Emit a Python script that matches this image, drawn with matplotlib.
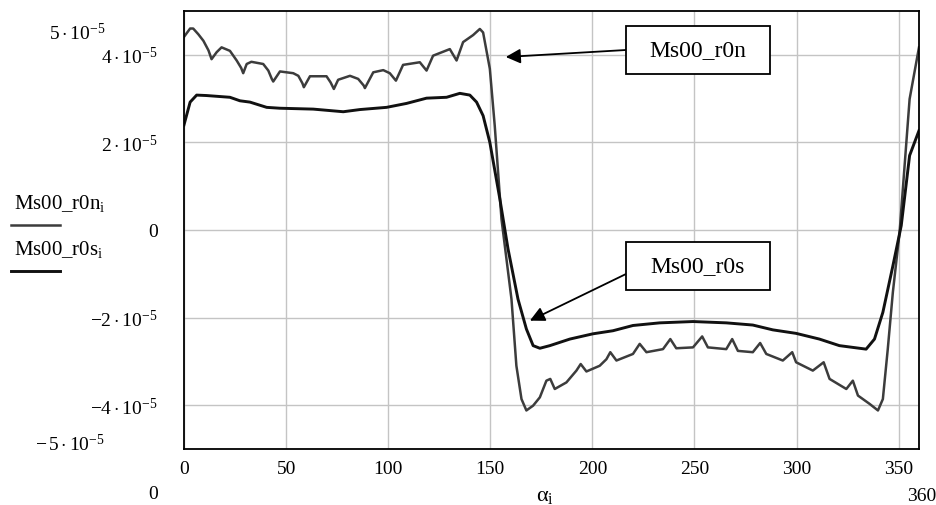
import matplotlib
matplotlib.use("Agg")
import matplotlib.pyplot as plt
from matplotlib.patches import Rectangle
from matplotlib.lines import Line2D

plt.rcParams["font.family"] = ["Liberation Serif", "DejaVu Serif"]
plt.rcParams["mathtext.fontset"] = "custom"
plt.rcParams["mathtext.rm"] = "Liberation Serif"
plt.rcParams["mathtext.it"] = "Liberation Serif:italic"

SCALE = 1e-5

# Ms00_r0n (grey, rippled) in units of 1e-5
alpha_n = [0, 3, 4.5, 7, 9.5, 12, 13.5, 16, 18.4, 22.5, 25.8, 28, 29, 30.7, 33, 38.8,
           41.3, 43, 43.7, 47, 53.5, 56, 58, 58.7, 61.7, 69.8, 71.8, 73.4, 75.5, 81.3,
           85.3, 88, 88.6, 92.7, 97.6, 100.8, 103.8, 107.3, 115.5, 118.8, 122, 130.2,
           133.5, 136.7, 141.6, 144.9, 146.5, 149.8, 152.2, 155.5, 160.4, 162.8,
           165.3, 167.7, 171, 174.3, 177.5, 179.4, 181.6, 187.3, 192.2, 194.3, 197.1,
           203.6, 206.9, 208.8, 211.8, 219.9, 223.2, 226.5, 234.6, 238.2, 241.1,
           249.3, 253.8, 256.6, 265.6, 268.5, 271.3, 278.6, 282.2, 285.2, 293.3,
           297.9, 299.8, 308, 313.3, 316.2, 324.4, 327.6, 330.1, 335.8, 339.9, 342.3,
           344.7, 347.2, 350.5, 355.4, 360]
ms00_r0n = [4.41, 4.6, 4.6, 4.47, 4.32, 4.1, 3.9, 4.06, 4.17, 4.09, 3.87, 3.7, 3.58,
            3.79, 3.84, 3.79, 3.64, 3.45, 3.39, 3.62, 3.58, 3.52, 3.35, 3.26, 3.51,
            3.51, 3.37, 3.22, 3.43, 3.52, 3.45, 3.3, 3.24, 3.6, 3.65, 3.58, 3.41, 3.77,
            3.83, 3.64, 3.98, 4.13, 3.87, 4.29, 4.45, 4.59, 4.51, 3.68, 2.38, 0.25,
            -1.58, -3.1, -3.86, -4.12, -4.01, -3.82, -3.44, -3.4, -3.63, -3.48, -3.21,
            -3.06, -3.23, -3.1, -2.95, -2.79, -2.98, -2.83, -2.6, -2.79, -2.72, -2.49,
            -2.7, -2.68, -2.43, -2.68, -2.72, -2.49, -2.76, -2.79, -2.58, -2.83, -2.98,
            -2.79, -3.02, -3.21, -3.02, -3.4, -3.63, -3.44, -3.78, -3.97, -4.12,
            -3.86, -2.72, -1.42, -0.05, 2.99, 4.17]

# Ms00_r0s (black, smooth) in units of 1e-5
alpha_s = [0, 3, 6.2, 11, 22.5, 27.4, 32.3, 40.5, 47, 63.3, 78, 86.2, 99.2, 109,
           118.8, 128.6, 135.1, 140, 143.3, 146.5, 149.8, 154.7, 158.7, 163.6, 167.7,
           171, 174.3, 179.2, 189, 200.3, 210.1, 219.9, 233, 249.3, 265.6, 278.6,
           288.4, 299.8, 311.2, 321, 334.1, 338.2, 342.3, 347.2, 351.3, 355.4, 360]
ms00_r0s = [2.4, 2.92, 3.08, 3.07, 3.03, 2.95, 2.92, 2.8, 2.78, 2.76, 2.7, 2.75, 2.8,
            2.89, 3.01, 3.03, 3.12, 3.08, 2.92, 2.61, 2.0, 0.71, -0.43, -1.58, -2.26,
            -2.64, -2.7, -2.64, -2.49, -2.37, -2.3, -2.18, -2.12, -2.09, -2.12, -2.17,
            -2.28, -2.36, -2.49, -2.64, -2.72, -2.49, -1.88, -0.82, 0.1, 1.7, 2.27]

x_ticks = [0, 50, 100, 150, 200, 250, 300, 350]
y_ticks = [-4, -2, 0, 2, 4]
y_tick_labels = [r"$-4\cdot10^{-5}$", r"$-2\cdot10^{-5}$", "0",
                 r"$2\cdot10^{-5}$", r"$4\cdot10^{-5}$"]

W, H = 937, 506
fig = plt.figure(figsize=(W / 100, H / 100), dpi=100)
ax = fig.add_axes([184 / W, 1 - 450 / H, (919 - 184) / W, (450 - 12) / H])


def fx(px):
    return px / W


def fy(py):
    return 1 - py / H


ax.plot(alpha_n, [v * SCALE for v in ms00_r0n], color="#3c3c3c", lw=1.8)
ax.plot(alpha_s, [v * SCALE for v in ms00_r0s], color="#111111", lw=2.1)

ax.set_xlim(0, 360)
ax.set_ylim(-5e-5, 5e-5)
ax.set_xticks(x_ticks)
ax.set_yticks([v * SCALE for v in y_ticks])
ax.set_yticklabels(y_tick_labels)
ax.tick_params(length=0, labelsize=14, pad=19)
ax.tick_params(axis="x", pad=8)
ax.grid(True, color="#c4c4c4", lw=1)
ax.set_axisbelow(True)
for side in ax.spines.values():
    side.set_color("black")
    side.set_linewidth(1.3)

# Mathcad style limit labels
fig.text(fx(105), fy(33), r"$5\cdot10^{-5}$", ha="right", va="center", fontsize=14)
fig.text(fx(105), fy(445), r"$-\,5\cdot10^{-5}$", ha="right", va="center", fontsize=14)
fig.text(fx(153), fy(495), "0", ha="center", va="center", fontsize=14)
fig.text(fx(922), fy(497), "360", ha="center", va="center", fontsize=14)
fig.text(fx(545), fy(497), r"α$_{\mathrm{i}}$", ha="center", va="center", fontsize=16)

# legend at the left
fig.text(fx(14), fy(203), r"Ms00_r0n$_{\mathrm{i}}$", ha="left", va="center", fontsize=15)
fig.text(fx(14), fy(250), r"Ms00_r0s$_{\mathrm{i}}$", ha="left", va="center", fontsize=15)
fig.add_artist(Line2D([fx(11), fx(60)], [fy(226), fy(226)], color="#3c3c3c", lw=1.8))
fig.add_artist(Line2D([fx(11), fx(60)], [fy(272), fy(272)], color="#111111", lw=2.1))

# annotation boxes with arrows
boxes = [("Ms00_r0n", (626, 27), (157.6, 3.95e-5), 51),
         ("Ms00_r0s", (626, 243), (169.4, -2.07e-5), 275)]
for label, (bx, by), target, ay in boxes:
    fig.add_artist(Rectangle((fx(bx), fy(by + 48)), 144 / W, 48 / H,
                             transform=fig.transFigure, fill=True, fc="white",
                             ec="black", lw=1.3, zorder=5))
    fig.text(fx(bx + 72), fy(by + 24), label, ha="center", va="center",
             fontsize=17, zorder=6)
    ax.annotate("", xy=target, xycoords="data",
                xytext=(fx(bx), fy(ay)), textcoords="figure fraction",
                arrowprops=dict(arrowstyle="-|>", color="black", lw=1.3,
                                mutation_scale=22, shrinkA=0, shrinkB=0),
                zorder=6)

fig.savefig("out.png", dpi=100)
